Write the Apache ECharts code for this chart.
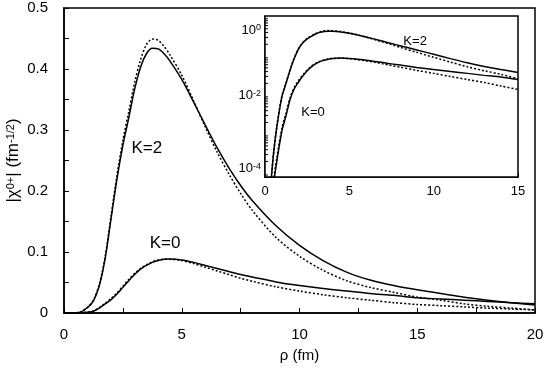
<!DOCTYPE html>
<html>
<head>
<meta charset="utf-8">
<script src="https://cdn.jsdelivr.net/npm/echarts@6/dist/echarts.min.js"></script>
<style>
html,body{margin:0;padding:0;background:#fff}
#main{width:545px;height:376px}
</style>
</head>
<body>
<div id="main"></div>
<script>
// rho (fm)
var rho = [0, 0.3, 0.5, 0.7, 1.0, 1.25, 1.5, 1.75, 2.0, 2.25, 2.5, 2.75, 3.0, 3.25, 3.5, 3.75, 4.0, 4.25, 4.5,
  5.0, 5.5, 6.0, 6.5, 7.0, 7.5, 8.0, 9, 10, 11, 12, 13, 14, 15, 16, 17, 18, 19, 20];
// |chi| K=2, solid and dotted
var k2Full = [0, 0.00003, 0.0003, 0.0015, 0.009, 0.02, 0.045, 0.09, 0.155, 0.22, 0.275, 0.32, 0.367, 0.403, 0.425, 0.434, 0.433, 0.425, 0.413,
  0.383, 0.346, 0.308, 0.271, 0.238, 0.209, 0.184, 0.143, 0.111, 0.086, 0.067, 0.054, 0.045, 0.038, 0.032, 0.026, 0.021, 0.017, 0.013];
var k2Approx = [0, 0.00003, 0.0003, 0.0016, 0.0095, 0.021, 0.047, 0.093, 0.16, 0.226, 0.283, 0.33, 0.378, 0.415, 0.44, 0.449, 0.447, 0.437, 0.423,
  0.39, 0.348, 0.305, 0.264, 0.228, 0.196, 0.168, 0.124, 0.093, 0.07, 0.053, 0.042, 0.034, 0.026, 0.021, 0.015, 0.011, 0.008, 0.005];
// |chi| K=0, solid and dotted
var k0Full = [0, 0.000005, 0.00005, 0.0002, 0.0012, 0.003, 0.008, 0.015, 0.022, 0.031, 0.042, 0.053, 0.063, 0.072, 0.078, 0.083, 0.086, 0.088, 0.0885,
  0.087, 0.083, 0.078, 0.073, 0.068, 0.063, 0.059, 0.051, 0.045, 0.04, 0.036, 0.032, 0.029, 0.025, 0.023, 0.021, 0.019, 0.017, 0.015];
var k0Approx = [0, 0.000006, 0.00006, 0.00025, 0.0014, 0.0035, 0.009, 0.016, 0.024, 0.033, 0.044, 0.055, 0.065, 0.073, 0.079, 0.084, 0.087, 0.088, 0.088,
  0.086, 0.081, 0.075, 0.069, 0.063, 0.057, 0.052, 0.043, 0.036, 0.03, 0.025, 0.021, 0.017, 0.014, 0.012, 0.01, 0.008, 0.0065, 0.005];

// tick labels
var xLabels = [0, 5, 10, 15, 20];
var yLabels = [0, 0.1, 0.2, 0.3, 0.4, 0.5];
var insetXLabels = [0, 5, 10, 15];
var insetYExps = [0, -2, -4];

var font = '"Liberation Sans", Arial, Helvetica, sans-serif';
var insetYMin = 8e-5, insetYMax = 1.06;

function pairs(ys, xmax, positive) {
  var out = [];
  for (var i = 0; i < rho.length; i++) {
    if (rho[i] > xmax) break;
    if (positive && !(ys[i] > 0)) continue;
    out.push([rho[i], ys[i]]);
  }
  return out;
}
function near(list, v) {
  for (var i = 0; i < list.length; i++) if (Math.abs(list[i] - v) < 1e-6) return true;
  return false;
}

// minor ticks 2..9 of each decade for the log axis
var minorLog = [];
for (var e = -5; e <= 0; e++) {
  for (var m = 2; m <= 9; m++) {
    var v = m * Math.pow(10, e);
    if (v > insetYMin && v < insetYMax) minorLog.push([0, v]);
  }
}

var solid = {color: '#000', width: 1.5};
var dotted = {color: '#000', width: 1.5, type: [2, 2]};

function line(name, ys, style, inset, mark) {
  var s = {
    name: name, type: 'line', showSymbol: false, smooth: 0.3, silent: true,
    xAxisIndex: inset ? 1 : 0, yAxisIndex: inset ? 1 : 0,
    data: inset ? pairs(ys, 15, true) : pairs(ys, 20, false),
    lineStyle: style, clip: true, z: inset ? 10 : 2
  };
  if (mark) {
    s.markPoint = {
      symbol: 'circle', symbolSize: 0, silent: true,
      label: {show: true, position: 'inside', color: '#000', fontFamily: font, fontSize: inset ? 13 : 17,
        formatter: function (p) { return p.name; }},
      data: [mark]
    };
  }
  return s;
}

var chart = echarts.init(document.getElementById('main'));
chart.setOption({
  backgroundColor: '#fff',
  animation: false,
  grid: [
    {left: 64, right: 10, top: 8, bottom: 63, show: true, borderColor: '#000', borderWidth: 1.5, outerBoundsMode: 'none'},
    {left: 265, right: 27, top: 16, bottom: 199, show: true, borderColor: '#000', borderWidth: 1.5, backgroundColor: '#fff', z: 5, outerBoundsMode: 'none'}
  ],
  xAxis: [
    {
      type: 'value', gridIndex: 0, min: 0, max: 20, interval: 2.5,
      name: 'ρ (fm)', nameLocation: 'middle', nameGap: 35, nameMoveOverlap: false,
      nameTextStyle: {color: '#000', fontSize: 15, fontFamily: font},
      axisLine: {lineStyle: {color: '#000', width: 1.5}},
      axisTick: {inside: true, length: 5, lineStyle: {color: '#000'}},
      splitLine: {show: false},
      axisLabel: {color: '#000', fontSize: 15, fontFamily: font, margin: 14,
        formatter: function (v) { return near(xLabels, v) ? String(v) : ''; }}
    },
    {
      type: 'value', gridIndex: 1, min: 0, max: 15, interval: 2.5,
      axisLine: {lineStyle: {color: '#000', width: 1.5}},
      axisTick: {inside: true, length: 4, lineStyle: {color: '#000'}},
      splitLine: {show: false},
      axisLabel: {color: '#000', fontSize: 13, fontFamily: font, margin: 8,
        formatter: function (v) { return near(insetXLabels, v) ? String(v) : ''; }}
    }
  ],
  yAxis: [
    {
      type: 'value', gridIndex: 0, min: 0, max: 0.5, interval: 0.05,
      name: '|χ{sup|0+}| (fm{sup|-1/2})', nameLocation: 'middle', nameGap: 42, nameMoveOverlap: false,
      nameTextStyle: {color: '#000', fontSize: 17, fontFamily: font,
        rich: {sup: {fontSize: 11, fontFamily: font, color: '#000', verticalAlign: 'top'}}},
      axisLine: {lineStyle: {color: '#000', width: 1.5}},
      axisTick: {inside: true, length: 5, lineStyle: {color: '#000'}},
      splitLine: {show: false},
      axisLabel: {color: '#000', fontSize: 15, fontFamily: font, margin: 16,
        formatter: function (v) { return near(yLabels, v) ? String(+v.toFixed(2)) : ''; }}
    },
    {
      type: 'log', gridIndex: 1, min: insetYMin, max: insetYMax, logBase: 10,
      axisLine: {lineStyle: {color: '#000', width: 1.5}},
      axisTick: {inside: true, length: 5, lineStyle: {color: '#000'}},
      splitLine: {show: false},
      axisLabel: {color: '#000', fontFamily: font, margin: 4,
        rich: {
          a: {fontSize: 13, fontFamily: font, color: '#000'},
          s: {fontSize: 9, fontFamily: font, color: '#000', verticalAlign: 'top'},
          at: {fontSize: 13, fontFamily: font, color: '#000', padding: [26, 0, 0, 0]},
          st: {fontSize: 9, fontFamily: font, color: '#000', verticalAlign: 'top', padding: [26, 0, 0, 0]},
          ab: {fontSize: 13, fontFamily: font, color: '#000', padding: [0, 0, 10, 0]},
          sb: {fontSize: 9, fontFamily: font, color: '#000', verticalAlign: 'top'}
        },
        formatter: function (v) {
          var e = Math.log(v) / Math.LN10;
          var r = Math.round(e);
          if (Math.abs(e - r) > 1e-6 || insetYExps.indexOf(r) < 0) return '';
          if (r === 0) return '{at|10}{st|' + r + '}';
          if (r === -4) return '{ab|10}{sb|' + r + '}';
          return '{a|10}{s|' + r + '}';
        }}
    }
  ],
  series: [
    line('K=2', k2Full, solid, false, {name: 'K=2', coord: [3.52, 0.27]}),
    line('K=2 approx', k2Approx, dotted, false),
    line('K=0', k0Full, solid, false, {name: 'K=0', coord: [4.29, 0.115]}),
    line('K=0 approx', k0Approx, dotted, false),
    line('K=2 inset', k2Full, solid, true, {name: 'K=2', coord: [8.9, 0.23]}),
    line('K=2 approx inset', k2Approx, dotted, true),
    line('K=0 inset', k0Full, solid, true, {name: 'K=0', coord: [2.85, 0.0036]}),
    line('K=0 approx inset', k0Approx, dotted, true),
    {
      type: 'custom', xAxisIndex: 1, yAxisIndex: 1, silent: true, z: 11, clip: false,
      encode: {x: 0, y: 1},
      data: minorLog,
      renderItem: function (params, api) {
        var p = api.coord([0, api.value(1)]);
        return {type: 'line', shape: {x1: p[0], y1: p[1], x2: p[0] + 3, y2: p[1]},
          style: {stroke: '#000', lineWidth: 1}};
      }
    }
  ]
});
</script>
</body>
</html>
